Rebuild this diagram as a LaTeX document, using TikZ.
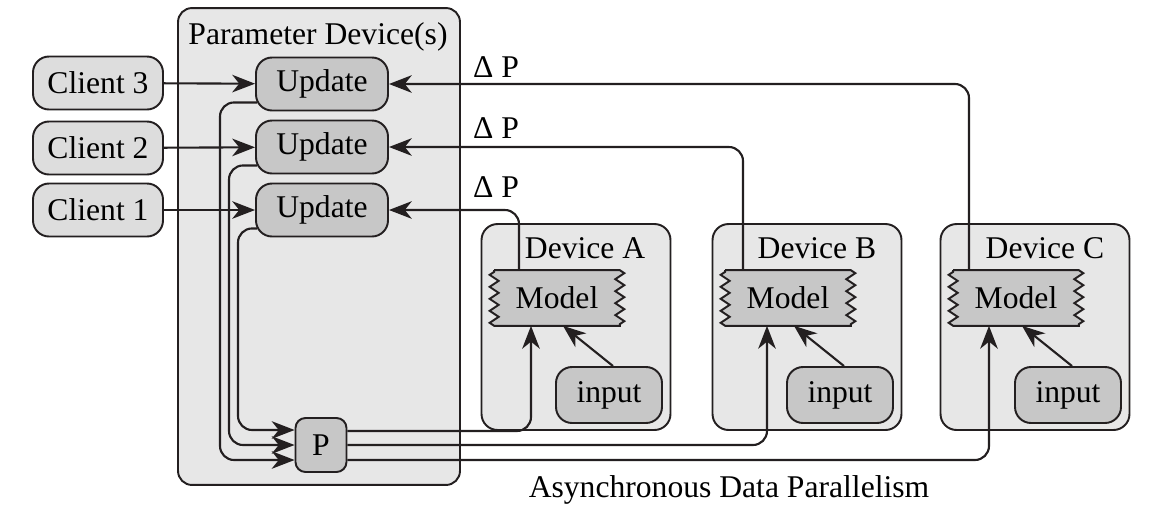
\documentclass[tikz,border=0pt]{standalone}
\usepackage{fontspec}
\setmainfont{Liberation Serif}
\usetikzlibrary{arrows.meta, positioning, calc, backgrounds, decorations.pathmorphing}
\definecolor{boxGray}{HTML}{E7E7E7}
\definecolor{clientGray}{HTML}{DDDDDD}
\definecolor{nodeGray}{HTML}{C7C7C7}
\definecolor{lineDark}{HTML}{231F20}

\begin{document}
\begin{tikzpicture}[x=0.02cm, y=-0.02cm, font=\fontsize{18}{22}\selectfont,
    base/.style={draw=lineDark, line width=1.1pt, inner sep=0pt},
    pbox/.style={base, fill=boxGray, rounded corners=0.28cm, minimum width=5.64cm, minimum height=9.54cm},
    devbox/.style={base, fill=boxGray, rounded corners=0.32cm, minimum width=3.78cm, minimum height=4.12cm},
    client/.style={base, fill=clientGray, rounded corners=0.32cm, minimum width=2.6cm, minimum height=1.06cm},
    upd/.style={base, fill=nodeGray, rounded corners=0.32cm, minimum width=2.64cm, minimum height=1.06cm},
    pnode/.style={base, fill=nodeGray, rounded corners=0.2cm, minimum width=1.02cm, minimum height=1.08cm},
    inbox/.style={base, fill=nodeGray, rounded corners=0.32cm, minimum width=2.12cm, minimum height=1.12cm},
    model/.style={inner sep=0pt, minimum width=2.5cm, minimum height=1.1cm},
    zig/.style={draw=lineDark, line width=1.1pt, fill=nodeGray,
        decoration={zigzag, segment length=0.24cm, amplitude=0.09cm}},
    arr/.style={draw=lineDark, line width=1.2pt, rounded corners=8pt,
        -{Stealth[length=13pt, width=10pt, inset=4pt]}}]

    \useasboundingbox (0,0) rectangle (1163,511);

    % Containers
    \begin{scope}[on background layer]
        \node[pbox] (par) at (319,246.5) {};
        \foreach \d/\x in {A/576, B/807, C/1035}
            \node[devbox] (dev\d) at (\x,327) {};
    \end{scope}
    \node (ptitle) at (318,37) {Parameter Device(s)};
    \foreach \d in {A, B, C}
        \node[anchor=east] (t\d) at ($(dev\d.north east)+(-20,25)$) {Device \d};

    % Clients and updates
    \foreach \i/\y in {1/210, 2/148, 3/83}
        \node[client] (c\i) at (98,\y) {Client \i};
    \foreach \i/\y in {1/210, 2/147, 3/84}
        \node[upd] (u\i) at (322,\y) {Update};
    \node[pnode] (p) at (321,445) {P};

    % Models and inputs
    \foreach \d/\x/\xi in {A/557/609, B/788/840, C/1016/1068} {
        \node[model] (m\d) at (\x,298) {Model};
        \node[inbox] (in\d) at (\xi,395) {input};
    }
    \begin{scope}[on background layer]
        \foreach \d in {A, B, C}
            \draw[zig] (m\d.north west) -- (m\d.north east) decorate{-- (m\d.south east)}
                -- (m\d.south west) decorate{-- (m\d.north west)} -- cycle;
    \end{scope}

    \node (dp1) at (496,187) {Δ P};
    \node (dp2) at (496,128) {Δ P};
    \node (dp3) at (496,67) {Δ P};

    % Connectors
    \foreach \i in {1, 2, 3}
        \draw[arr] (c\i) -- (u\i);
    \foreach \i/\x/\y in {1/238/430, 2/229/445, 3/220/460}
        \draw[arr] ($(u\i.south west)+(2,-9)$) -| (\x,\y) -- (p.west |- 0,\y);
    \foreach \d/\u/\xt/\xb/\y in {A/1/519/531/431, B/2/743/767/445, C/3/969/989/460} {
        \draw[arr] (\xt,0 |- m\d.north) |- (u\u.east);
        \draw[arr] (p.east |- 0,\y) -| (\xb,0 |- m\d.south);
        \draw[arr] ($(in\d.north)+(4,0)$) -- ($(m\d.south)+(6,0)$);
    }

    \node (caption) at (729,490) {Asynchronous Data Parallelism};
\end{tikzpicture}
\end{document}
